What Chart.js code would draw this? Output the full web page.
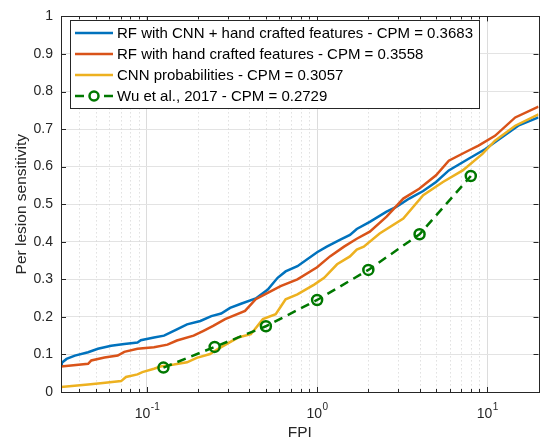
<!doctype html>
<html lang="en">
<head>
  <meta charset="utf-8">
  <title>FROC curves</title>
  <style>
    * { margin: 0; padding: 0; }
    body { background: white; }
    .chartBox { width: 546px; height: 442px; position: relative; }
  </style>
</head>
<body>
<div class="chartBox">
  <canvas id="myChart" width="546" height="442"></canvas>
</div>

<script src="https://cdn.jsdelivr.net/npm/chart.js"></script>
<script>
  // values: FPI (log axis) and per lesion sensitivity
  const rfCnnFpi  = [0.03125, 0.0316, 0.0337, 0.0377, 0.0451, 0.0515, 0.0616, 0.0736, 0.088, 0.092, 0.110, 0.126, 0.150, 0.172, 0.206, 0.239, 0.273, 0.308, 0.357, 0.436, 0.513, 0.586, 0.653, 0.766, 1.0, 1.14, 1.36, 1.56, 1.71, 2.04, 2.56, 2.92, 3.48, 4.20, 5.00, 5.94, 7.77, 9.75, 12.2, 15.2, 20];
  const rfCnnSens = [0.070, 0.078, 0.088, 0.097, 0.106, 0.115, 0.123, 0.128, 0.132, 0.138, 0.145, 0.150, 0.167, 0.180, 0.189, 0.202, 0.209, 0.224, 0.235, 0.249, 0.273, 0.304, 0.321, 0.335, 0.372, 0.387, 0.405, 0.418, 0.434, 0.453, 0.480, 0.493, 0.515, 0.535, 0.559, 0.590, 0.621, 0.647, 0.678, 0.709, 0.731];

  const rfHandFpi  = [0.03125, 0.0451, 0.0471, 0.0563, 0.0673, 0.0736, 0.088, 0.110, 0.132, 0.150, 0.188, 0.215, 0.245, 0.288, 0.377, 0.436, 0.493, 0.610, 0.766, 1.0, 1.19, 1.44, 1.71, 2.04, 2.56, 3.21, 3.98, 5.00, 5.94, 7.77, 8.88, 11.1, 14.6, 20];
  const rfHandSens = [0.068, 0.075, 0.084, 0.092, 0.097, 0.107, 0.115, 0.119, 0.126, 0.137, 0.150, 0.163, 0.176, 0.194, 0.216, 0.247, 0.260, 0.282, 0.300, 0.332, 0.361, 0.387, 0.408, 0.427, 0.467, 0.515, 0.541, 0.577, 0.616, 0.643, 0.656, 0.682, 0.731, 0.760];

  const cnnFpi  = [0.03125, 0.0451, 0.0551, 0.0705, 0.0753, 0.088, 0.094, 0.110, 0.120, 0.144, 0.172, 0.196, 0.235, 0.262, 0.343, 0.408, 0.480, 0.571, 0.653, 0.766, 0.961, 1.10, 1.31, 1.56, 1.71, 1.88, 2.33, 3.21, 4.20, 5.49, 7.17, 9.37, 11.1, 14.6, 20];
  const cnnSens = [0.013, 0.020, 0.024, 0.029, 0.040, 0.047, 0.053, 0.062, 0.068, 0.073, 0.079, 0.091, 0.101, 0.115, 0.145, 0.154, 0.194, 0.207, 0.247, 0.260, 0.286, 0.304, 0.340, 0.361, 0.379, 0.387, 0.422, 0.462, 0.524, 0.559, 0.590, 0.634, 0.669, 0.709, 0.739];

  const wuFpi  = [0.125, 0.25, 0.5, 1, 2, 4, 8];
  const wuSens = [0.065, 0.120, 0.175, 0.245, 0.325, 0.420, 0.575];

  const seriesNames = [
    'RF with CNN + hand crafted features - CPM = 0.3683',
    'RF with hand crafted features - CPM = 0.3558',
    'CNN probabilities - CPM = 0.3057',
    'Wu et al., 2017 - CPM = 0.2729'
  ];
  const seriesColors = ['#0072BD', '#D95319', '#EDB120', '#007800'];

  const xMin = 0.03125, xMax = 20;
  const xTickValues = [0.1, 1, 10];
  const xTickExps = ['-1', '0', '1'];
  const yTickLabels = ['0', '0.1', '0.2', '0.3', '0.4', '0.5', '0.6', '0.7', '0.8', '0.9', '1'];

  const FONT = "'Liberation Sans', Arial, Helvetica, sans-serif";
  const AXIS_COLOR = '#262626';

  function toPoints(xs, ys) {
    return xs.map((x, i) => ({ x: x, y: ys[i] }));
  }

  function isDecade(v) {
    const l = Math.log10(v);
    return Math.abs(l - Math.round(l)) < 1e-6;
  }

  // MATLAB-like frame: dotted minor grid, box, inward ticks, 10^n labels, legend box
  const matlabAxes = {
    id: 'matlabAxes',
    beforeDatasetsDraw(chart) {
      const { ctx, chartArea: a, scales: { x } } = chart;
      ctx.save();
      ctx.strokeStyle = '#d0d0d0';
      ctx.lineWidth = 1;
      ctx.setLineDash([1, 3]);
      x.ticks.forEach(t => {
        if (isDecade(t.value)) return;
        const px = Math.round(x.getPixelForValue(t.value)) + 0.5;
        ctx.beginPath();
        ctx.moveTo(px, a.top);
        ctx.lineTo(px, a.bottom);
        ctx.stroke();
      });
      ctx.restore();
    },
    afterDatasetsDraw(chart) {
      const { ctx, chartArea: a, scales: { x, y } } = chart;
      ctx.save();
      ctx.strokeStyle = AXIS_COLOR;
      ctx.lineWidth = 1;
      ctx.setLineDash([]);
      ctx.strokeRect(Math.round(a.left) + 0.5, Math.round(a.top) + 0.5,
                     Math.round(a.right - a.left), Math.round(a.bottom - a.top));

      // x ticks top & bottom
      x.ticks.forEach(t => {
        const px = Math.round(x.getPixelForValue(t.value)) + 0.5;
        const len = isDecade(t.value) ? 5 : 3;
        ctx.beginPath();
        ctx.moveTo(px, a.bottom); ctx.lineTo(px, a.bottom - len);
        ctx.moveTo(px, a.top); ctx.lineTo(px, a.top + len);
        ctx.stroke();
      });
      // y ticks left & right
      y.ticks.forEach(t => {
        const py = Math.round(y.getPixelForValue(t.value)) + 0.5;
        ctx.beginPath();
        ctx.moveTo(a.left, py); ctx.lineTo(a.left + 5, py);
        ctx.moveTo(a.right, py); ctx.lineTo(a.right - 5, py);
        ctx.stroke();
      });

      // x tick labels 10^n
      ctx.fillStyle = AXIS_COLOR;
      ctx.textBaseline = 'alphabetic';
      xTickValues.forEach((v, i) => {
        const px = x.getPixelForValue(v);
        ctx.font = '14px ' + FONT;
        const wBase = ctx.measureText('10').width;
        ctx.font = '10px ' + FONT;
        const wExp = ctx.measureText(xTickExps[i]).width;
        const left = px - (wBase + wExp) / 2;
        ctx.font = '14px ' + FONT;
        ctx.textAlign = 'left';
        ctx.fillText('10', left, 418);
        ctx.font = '10px ' + FONT;
        ctx.fillText(xTickExps[i], left + wBase + 0.5, 410);
      });

      // legend
      const lx = 70.5, ly = 20.5, lw = 409, lh = 88;
      ctx.fillStyle = 'white';
      ctx.fillRect(lx, ly, lw, lh);
      ctx.strokeStyle = AXIS_COLOR;
      ctx.strokeRect(lx, ly, lw, lh);
      const rowY = [33, 54, 75, 96];
      seriesNames.forEach((name, i) => {
        const yy = rowY[i];
        ctx.strokeStyle = seriesColors[i];
        ctx.lineWidth = 2.5;
        if (i === 3) {
          ctx.beginPath();
          ctx.moveTo(75, yy); ctx.lineTo(84, yy);
          ctx.moveTo(104, yy); ctx.lineTo(113, yy);
          ctx.stroke();
          ctx.beginPath();
          ctx.arc(94, yy, 4.5, 0, Math.PI * 2);
          ctx.stroke();
        } else {
          ctx.beginPath();
          ctx.moveTo(75, yy); ctx.lineTo(113, yy);
          ctx.stroke();
        }
        ctx.fillStyle = '#000';
        ctx.font = '15px ' + FONT;
        ctx.textAlign = 'left';
        ctx.textBaseline = 'middle';
        ctx.fillText(name, 117, yy + 1);
      });
      ctx.restore();
    }
  };

  const data = {
    datasets: [
      {
        label: seriesNames[0],
        data: toPoints(rfCnnFpi, rfCnnSens),
        borderColor: seriesColors[0],
        backgroundColor: seriesColors[0],
        borderWidth: 2.5,
        pointRadius: 0,
        order: 3
      },
      {
        label: seriesNames[1],
        data: toPoints(rfHandFpi, rfHandSens),
        borderColor: seriesColors[1],
        backgroundColor: seriesColors[1],
        borderWidth: 2.5,
        pointRadius: 0,
        order: 2
      },
      {
        label: seriesNames[2],
        data: toPoints(cnnFpi, cnnSens),
        borderColor: seriesColors[2],
        backgroundColor: seriesColors[2],
        borderWidth: 2.5,
        pointRadius: 0,
        order: 1
      },
      {
        label: seriesNames[3],
        data: toPoints(wuFpi, wuSens),
        borderColor: seriesColors[3],
        backgroundColor: 'rgba(0,0,0,0)',
        borderWidth: 2.5,
        borderDash: [9, 6],
        pointRadius: 5,
        pointBorderWidth: 2.5,
        pointBorderColor: seriesColors[3],
        pointBackgroundColor: 'rgba(0,0,0,0)',
        order: 0
      }
    ]
  };

  const config = {
    type: 'line',
    data,
    options: {
      responsive: false,
      animation: false,
      devicePixelRatio: 1,
      layout: { padding: { top: 13, right: 3, left: 0, bottom: 0 } },
      scales: {
        x: {
          type: 'logarithmic',
          min: xMin,
          max: xMax,
          afterBuildTicks: (scale) => {
            const t = [];
            [0.01, 0.1, 1, 10].forEach(d => {
              for (let m = 1; m < 10; m++) {
                const v = m * d;
                if (v >= xMin - 1e-9 && v <= xMax + 1e-9) t.push({ value: v });
              }
            });
            scale.ticks = t;
          },
          ticks: { display: false },
          grid: {
            drawTicks: false,
            color: (c) => (c.tick && isDecade(c.tick.value)) ? '#dcdcdc' : 'rgba(0,0,0,0)'
          },
          border: { display: false },
          title: {
            display: true,
            text: 'FPI',
            color: AXIS_COLOR,
            font: { family: FONT, size: 15.5 },
            padding: { top: 0, bottom: 0 }
          },
          afterFit: (scale) => { scale.height = 50; }
        },
        y: {
          min: 0,
          max: 1,
          ticks: {
            stepSize: 0.1,
            padding: 8,
            color: AXIS_COLOR,
            font: { family: FONT, size: 14 },
            callback: (v, i) => yTickLabels[i]
          },
          grid: { drawTicks: false, color: '#e3e3e3' },
          border: { display: false },
          title: {
            display: true,
            text: 'Per lesion sensitivity',
            color: AXIS_COLOR,
            font: { family: FONT, size: 15.5 },
            padding: { top: 12, bottom: 0 }
          },
          afterFit: (scale) => { scale.width = 61; }
        }
      },
      plugins: {
        legend: { display: false },
        tooltip: { enabled: false }
      }
    },
    plugins: [matlabAxes]
  };

  const myChart = new Chart(document.getElementById('myChart'), config);
</script>
</body>
</html>
